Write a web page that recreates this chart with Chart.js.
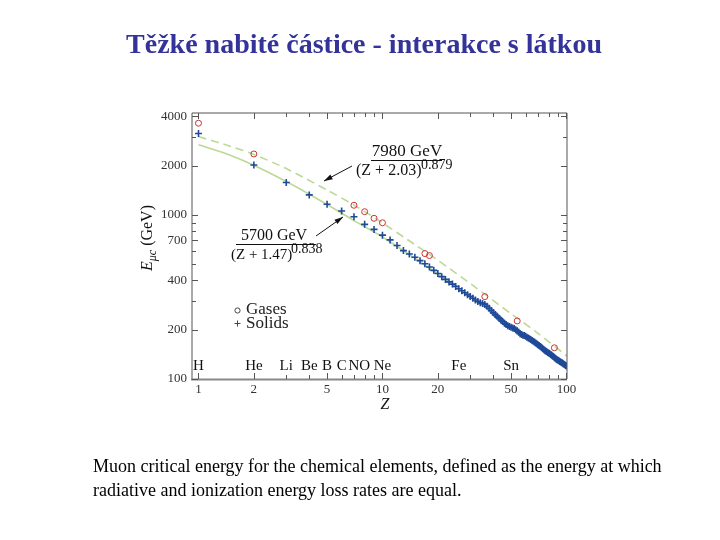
<!DOCTYPE html>
<html>
<head>
<meta charset="utf-8">
<title>Těžké nabité částice - interakce s látkou</title>
<script src="https://cdn.jsdelivr.net/npm/chart.js@4/dist/chart.umd.min.js"></script>
<style>
  html, body { margin: 0; padding: 0; background: #fff; }
  #page { position: relative; width: 720px; height: 540px; overflow: hidden; }
  #title {
    position: absolute; left: 0; top: 28px; width: 728px; text-align: center;
    font: bold 28px 'Liberation Serif', 'Times New Roman', serif; color: #333399;
  }
  #chart { position: absolute; left: 0; top: 0; }
  #caption {
    position: absolute; left: 93px; top: 454px; width: 620px;
    font: 18px 'Liberation Serif', 'Times New Roman', serif; color: #000; line-height: 24px;
  }
</style>
</head>
<body>
<div id="page">
  <canvas id="chart" width="720" height="540"></canvas>
  <div id="title">Těžké nabité částice - interakce s látkou</div>
  <div id="caption">Muon critical energy for the chemical elements, defined as the energy at which<br>radiative and ionization energy loss rates are equal.</div>
</div>
<script>
// --- data -----------------------------------------------------------------
const gasZ = [1, 2, 7, 8, 9, 10, 17, 18, 36, 54, 86];
const gasE = [3630, 2357, 1147, 1048, 955, 897, 582, 566, 318, 226, 155];

const solidZ = [
  1, 2, 3, 4, 5, 6, 7, 8, 9, 10,
  11, 12, 13, 14, 15, 16, 17, 18, 19, 20,
  21, 22, 23, 24, 25, 26, 27, 28, 29, 30,
  31, 32, 33, 34, 35, 36, 37, 38, 39, 40,
  41, 42, 43, 44, 45, 46, 47, 48, 49, 50,
  51, 52, 53, 54, 55, 56, 57, 58, 59, 60,
  61, 62, 63, 64, 65, 66, 67, 68, 69, 70,
  71, 72, 73, 74, 75, 76, 77, 78, 79, 80,
  81, 82, 83, 84, 85, 86, 87, 88, 89, 90,
  91, 92, 93, 94, 95, 96, 97, 98, 99, 100
];
const solidE = [
  3140, 2018, 1578, 1327, 1163, 1058, 976, 877, 817, 754,
  705, 652, 607, 579, 553, 527, 505, 482, 460, 440,
  421, 405, 391, 379, 367, 355, 345, 336, 327, 319,
  311, 303, 297, 292, 289, 285, 278, 270, 262, 254,
  247, 241, 235, 229, 224, 219, 215, 211, 209, 207,
  205, 203, 200, 197, 193, 189, 187, 185, 184, 182,
  180, 178, 176, 174, 172, 170, 168, 166, 164, 162,
  160, 158, 156, 154, 152, 150, 148, 147, 145, 144,
  143, 141, 140, 138, 137, 135, 134, 132, 131, 130,
  129, 128, 127, 126, 125, 124, 123, 122, 121, 120
];

// fitted curves as drawn in the figure
const fitGasZ = [1, 1.5, 2, 3, 5, 7, 10, 15, 20, 30, 50, 70, 100.7];
const fitGasE = [3010, 2620, 2340, 1920, 1420, 1150, 895, 660, 530, 382, 250, 190, 138];
const fitSolidZ = [1, 1.5, 2, 3, 4, 5, 7, 10, 15, 20, 30, 50, 70, 100.7];
const fitSolidE = [2680, 2310, 2010, 1600, 1340, 1160, 925, 735, 545, 437, 318, 211, 160, 118];

const xTicks = [1, 2, 3, 4, 5, 6, 7, 8, 9, 10, 20, 30, 40, 50, 60, 70, 80, 90, 100];
const xLabels = [1, 2, 5, 10, 20, 50, 100];
const yTicks = [100, 200, 300, 400, 500, 600, 700, 800, 900, 1000, 2000, 3000, 4000];
const yLabels = [100, 200, 400, 700, 1000, 2000, 4000];

const elemNames = ['H', 'He', 'Li', 'Be', 'B', 'C', 'N', 'O', 'Ne', 'Fe', 'Sn'];
const elemZ = [1, 2, 3, 4, 5, 6, 7, 8, 10, 26, 50];

// --- helpers ---------------------------------------------------------------
const SERIF = "'Liberation Serif', 'Times New Roman', serif";
const pts = (xs, ys) => xs.map((x, i) => ({ x: x, y: ys[i] }));

// frame with inward ticks on all four sides, plus the in-plot text
const framePlugin = {
  id: 'frame',
  afterDatasetsDraw(chart) {
    const { ctx, chartArea: a, scales: { x, y } } = chart;
    ctx.save();
    ctx.strokeStyle = '#555';
    ctx.lineWidth = 1;
    ctx.beginPath();
    ctx.moveTo(a.left, a.bottom); ctx.lineTo(a.left, a.top);
    ctx.lineTo(a.right, a.top); ctx.lineTo(a.right, a.bottom);
    ctx.stroke();
    ctx.strokeStyle = '#888';
    ctx.lineWidth = 2;
    ctx.beginPath();
    ctx.moveTo(a.left - 1, a.bottom + 0.5); ctx.lineTo(a.right, a.bottom + 0.5);
    ctx.stroke();

    ctx.strokeStyle = '#555';
    ctx.lineWidth = 1;
    ctx.beginPath();
    xTicks.forEach(v => {
      const px = Math.round(x.getPixelForValue(v)) + 0.5;
      const len = xLabels.includes(v) ? 6 : 4;
      ctx.moveTo(px, a.bottom); ctx.lineTo(px, a.bottom - len);
      ctx.moveTo(px, a.top); ctx.lineTo(px, a.top + len);
    });
    yTicks.forEach(v => {
      const py = Math.round(y.getPixelForValue(v)) + 0.5;
      const len = yLabels.includes(v) ? 6 : 4;
      ctx.moveTo(a.left, py); ctx.lineTo(a.left + len, py);
      ctx.moveTo(a.right, py); ctx.lineTo(a.right - len, py);
    });
    ctx.stroke();
    ctx.restore();
  },
  afterDraw(chart) {
    const { ctx, scales: { x } } = chart;
    ctx.save();
    ctx.fillStyle = '#111';
    ctx.strokeStyle = '#111';
    ctx.textBaseline = 'middle';

    // element names along the bottom
    ctx.font = '15px ' + SERIF;
    ctx.textAlign = 'center';
    elemNames.forEach((n, i) => ctx.fillText(n, x.getPixelForValue(elemZ[i]), 366));

    // formula for gases
    ctx.font = '17px ' + SERIF;
    ctx.fillText('7980 GeV', 407, 152);
    ctx.lineWidth = 1;
    ctx.beginPath(); ctx.moveTo(371, 160.5); ctx.lineTo(442, 160.5); ctx.stroke();
    ctx.textAlign = 'left';
    ctx.font = '16px ' + SERIF;
    ctx.fillText('(Z + 2.03)', 356, 171);
    ctx.font = '14px ' + SERIF;
    ctx.fillText('0.879', 421, 165);

    // formula for solids
    ctx.font = '16px ' + SERIF;
    ctx.textAlign = 'center';
    ctx.fillText('5700 GeV', 274, 236);
    ctx.beginPath(); ctx.moveTo(236, 244.5); ctx.lineTo(316, 244.5); ctx.stroke();
    ctx.textAlign = 'left';
    ctx.font = '15px ' + SERIF;
    ctx.fillText('(Z + 1.47)', 231, 255);
    ctx.font = '14px ' + SERIF;
    ctx.fillText('0.838', 291, 249);

    arrow(ctx, 352, 166, 324, 181);
    arrow(ctx, 316, 236, 343, 217);

    // legend
    ctx.strokeStyle = '#444';
    ctx.lineWidth = 1;
    ctx.beginPath(); ctx.arc(237.5, 310.5, 2.6, 0, Math.PI * 2); ctx.stroke();
    ctx.beginPath();
    ctx.moveTo(234.5, 323.5); ctx.lineTo(240.5, 323.5);
    ctx.moveTo(237.5, 320.5); ctx.lineTo(237.5, 326.5);
    ctx.stroke();
    ctx.font = '17px ' + SERIF;
    ctx.fillStyle = '#222';
    ctx.fillText('Gases', 246, 310);
    ctx.fillText('Solids', 246, 324);

    // axis titles
    ctx.fillStyle = '#111';
    ctx.font = 'italic 16px ' + SERIF;
    ctx.textAlign = 'center';
    ctx.fillText('Z', 385, 405);

    ctx.translate(148, 238);
    ctx.rotate(-Math.PI / 2);
    ctx.textAlign = 'left';
    const fE = 'italic 16px ' + SERIF, fSub = 'italic 12px ' + SERIF, fR = '16px ' + SERIF;
    ctx.font = fE; const wE = ctx.measureText('E').width;
    ctx.font = fSub; const wS = ctx.measureText('μc').width;
    ctx.font = fR; const wR = ctx.measureText(' (GeV)').width;
    let cx = -(wE + wS + wR) / 2;
    ctx.font = fE; ctx.fillText('E', cx, 0); cx += wE;
    ctx.font = fSub; ctx.fillText('μc', cx, 5); cx += wS;
    ctx.font = fR; ctx.fillText(' (GeV)', cx, 0);
    ctx.restore();
  }
};

function arrow(ctx, x1, y1, x2, y2) {
  const ang = Math.atan2(y2 - y1, x2 - x1);
  ctx.save();
  ctx.strokeStyle = '#111';
  ctx.fillStyle = '#111';
  ctx.lineWidth = 1;
  ctx.beginPath(); ctx.moveTo(x1, y1); ctx.lineTo(x2, y2); ctx.stroke();
  ctx.beginPath();
  ctx.moveTo(x2, y2);
  ctx.lineTo(x2 - 9 * Math.cos(ang - 0.3), y2 - 9 * Math.sin(ang - 0.3));
  ctx.lineTo(x2 - 9 * Math.cos(ang + 0.3), y2 - 9 * Math.sin(ang + 0.3));
  ctx.closePath(); ctx.fill();
  ctx.restore();
}

new Chart(document.getElementById('chart'), {
  type: 'scatter',
  data: {
    datasets: [
      { label: 'Solids', data: pts(solidZ, solidE), order: 1,
        pointStyle: 'cross', pointRadius: 3.5, borderColor: '#1f4a98', borderWidth: 1.6 },
      { label: 'Gases', data: pts(gasZ, gasE), order: 2,
        pointStyle: 'circle', pointRadius: 3, borderColor: '#cc3333',
        backgroundColor: 'rgba(0,0,0,0)', borderWidth: 1 },
      { type: 'line', label: 'fit gases', data: pts(fitGasZ, fitGasE), order: 3,
        borderColor: '#bcd995', borderWidth: 1.6, borderDash: [8, 5],
        pointRadius: 0, tension: 0.3, fill: false },
      { type: 'line', label: 'fit solids', data: pts(fitSolidZ, fitSolidE), order: 4,
        borderColor: '#bcd995', borderWidth: 1.6,
        pointRadius: 0, tension: 0.3, fill: false }
    ]
  },
  options: {
    responsive: false, animation: false,
    layout: { padding: { left: 0, top: 113, right: 153, bottom: 0 } },
    plugins: { legend: { display: false }, tooltip: { enabled: false } },
    scales: {
      x: {
        type: 'logarithmic', min: 0.922, max: 100.7,
        grid: { display: false, drawTicks: false }, border: { display: false },
        afterFit: s => { s.height = 161; },
        afterBuildTicks: s => { s.ticks = xTicks.map(v => ({ value: v })); },
        ticks: {
          autoSkip: false, maxRotation: 0, padding: 3, color: '#333',
          font: { family: SERIF, size: 13 },
          callback: v => xLabels.includes(v) ? String(v) : ''
        }
      },
      y: {
        type: 'logarithmic', min: 100, max: 4190,
        grid: { display: false, drawTicks: false }, border: { display: false },
        afterFit: s => { s.width = 192; },
        afterBuildTicks: s => { s.ticks = yTicks.map(v => ({ value: v })); },
        ticks: {
          autoSkip: false, padding: 5, color: '#333',
          font: { family: SERIF, size: 13 },
          callback: v => yLabels.includes(v) ? String(v) : ''
        }
      }
    }
  },
  plugins: [framePlugin]
});
</script>
</body>
</html>
